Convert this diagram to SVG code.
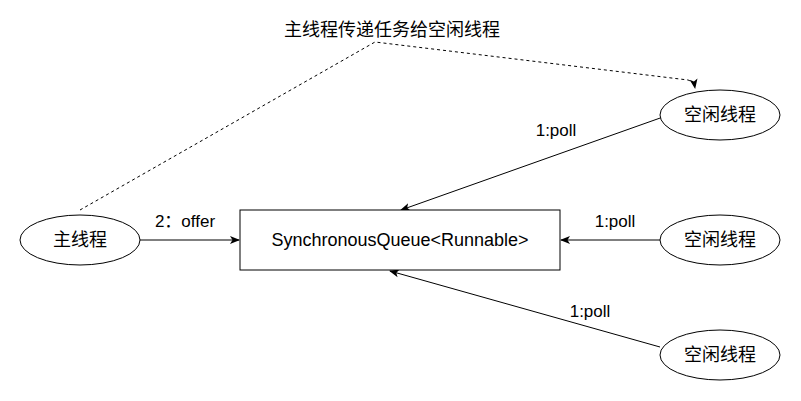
<svg xmlns="http://www.w3.org/2000/svg" width="801" height="401" viewBox="0 0 801 401">
<style>
.n{fill:#fff;stroke:#000;stroke-width:1}
.t{font-family:"Liberation Sans","Noto Sans CJK SC",sans-serif;font-size:17px;fill:#000;text-anchor:middle;dominant-baseline:central}
.e{fill:none;stroke:#000;stroke-width:1}
.d{stroke-dasharray:3 3}
</style>
<defs>
<marker id="a" viewBox="0 0 10 10" refX="9" refY="5" markerWidth="10" markerHeight="10" markerUnits="userSpaceOnUse" orient="auto">
<path d="M0,1 L10,5 L0,9 L2.5,5 Z" fill="#000"/>
</marker>
</defs>
<g id="edges">
<path class="e d" d="M80,210 L375,42 L688,80 Q694,82 695,88" marker-end="url(#a)"/>
<path class="e" d="M140,240 L239,240" marker-end="url(#a)"/>
<path class="e" d="M663,117 L401,210" marker-end="url(#a)"/>
<path class="e" d="M660,240 L561,240" marker-end="url(#a)"/>
<path class="e" d="M660,347 L390,271" marker-end="url(#a)"/>
<text class="t" x="392" y="30" style="font-size:18px">主线程传递任务给空闲线程</text>
<text class="t" x="185" y="221">2：offer</text>
<text class="t" x="556" y="130">1:poll</text>
<text class="t" x="615" y="221">1:poll</text>
<text class="t" x="590" y="311">1:poll</text>
</g>
<g id="main">
<ellipse class="n" cx="80" cy="240" rx="60" ry="25"/>
<text class="t" x="80" y="240" style="font-size:18px">主线程</text>
</g>
<g id="queue">
<rect class="n" x="240" y="210" width="320" height="60"/>
<text class="t" x="400" y="240" style="font-size:18px">SynchronousQueue&lt;Runnable&gt;</text>
</g>
<g id="idle1">
<ellipse class="n" cx="720" cy="115" rx="60" ry="25"/>
<text class="t" x="720" y="115" style="font-size:18px">空闲线程</text>
</g>
<g id="idle2">
<ellipse class="n" cx="720" cy="240" rx="60" ry="25"/>
<text class="t" x="720" y="240" style="font-size:18px">空闲线程</text>
</g>
<g id="idle3">
<ellipse class="n" cx="720" cy="355" rx="60" ry="25"/>
<text class="t" x="720" y="355" style="font-size:18px">空闲线程</text>
</g>
</svg>
